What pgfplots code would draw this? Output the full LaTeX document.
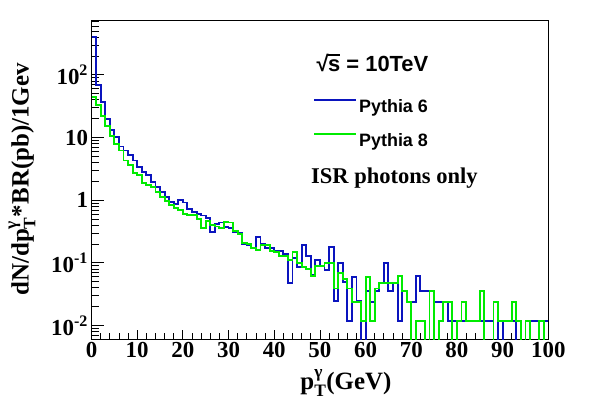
\documentclass[border=0pt]{standalone}
\usepackage{fontspec}
\setmainfont{Liberation Serif}
\newfontfamily\sansb{Liberation Sans}
\usepackage{pgfplots}
\usepackage{pgfplotstable}
\pgfplotsset{compat=1.18}
\definecolor{pblue}{RGB}{10,20,190}
\definecolor{pgreen}{RGB}{0,235,0}
\newcommand{\gT}{\rlap{\raisebox{0.12em}{\textsuperscript{γ}}}\raisebox{-0.12em}{\textsubscript{T}}}
\pgfplotstableread{
x b g
0 400 44
1 68 33
2 37 22
3 20 15.5
4 13 10.5
5 10.2 7.8
6 7.2 6.2
7 6.2 4.3
8 5.2 3.6
9 4.3 2.7
10 3.4 2.5
11 2.8 1.9
12 2.5 1.75
13 1.94 1.6
14 1.6 1.35
15 1.34 1.12
16 1.12 0.98
17 0.95 0.84
18 0.86 0.74
19 1.02 0.7
20 0.92 0.6
21 0.72 0.58
22 0.65 0.58
23 0.6 0.5
24 0.57 0.36
25 0.52 0.47
26 0.31 0.4
27 0.42 0.38
28 0.44 0.36
29 0.37 0.45
30 0.36 0.44
31 0.31 0.32
32 0.30 0.29
33 0.2 0.21
34 0.19 0.2
35 0.17 0.17
36 0.26 0.16
37 0.2 0.19
38 0.17 0.19
39 0.17 0.155
40 0.155 0.15
41 0.155 0.13
42 0.14 0.13
43 0.048 0.11
44 0.12 0.15
45 0.085 0.1
46 0.19 0.085
47 0.13 0.08
48 0.065 0.062
49 0.11 0.09
50 0.09 0.09
51 0.076 0.1
52 0.18 0.1
53 0.025 0.039
54 0.1 0.07
55 0.05 0.055
56 0.012 0.039
57 0.06 0.024
58 0.025 0.024
59 0.0001 0.012
60 0.036 0.06
61 0.024 0.012
62 0.036 0.039
63 0.048 0.048
64 0.1 0.048
65 0.036 0.048
66 0.048 0.048
67 0.012 0.062
68 0.036 0.036
69 0.024 0.024
70 0.024 0.0001
71 0.062 0.012
72 0.036 0.012
73 0.036 0.0001
74 0.036 0.036
75 0.024 0.0001
76 0.024 0.012
77 0.024 0.024
78 0.012 0.024
79 0.012 0.0001
80 0.012 0.012
81 0.012 0.024
82 0.012 0.012
83 0.012 0.012
84 0.012 0.012
85 0.012 0.036
86 0.012 0.0001
87 0.012 0.0001
88 0.024 0.024
89 0.0001 0.012
90 0.012 0.012
91 0.012 0.012
92 0.012 0.024
93 0.0001 0.012
94 0.0001 0.0001
95 0.012 0.012
96 0.012 0.0001
97 0.012 0.0001
98 0.012 0.012
99 0.012 0.0001
100 0.012 0.0001
}\histdata
\begin{document}
\begin{tikzpicture}[x=1bp,y=1bp]
\path[use as bounding box] (0,0) rectangle (609,409);
\begin{axis}[
  at={(91.5bp,70bp)}, anchor=south west,
  scale only axis, width=456.8bp, height=319bp,
  ymode=log, xmin=0, xmax=100, ymin=0.0061, ymax=750,
  axis line style={line width=0.9bp},
  tick pos=left, tick align=inside,
  major tick length=13bp, minor tick length=7bp,
  tick style={line width=0.8bp, black},
  xtick={0,10,...,100},
  xticklabels={0,10,20,30,40,50,60,70,80,90,100},
  minor x tick num=4,
  xtick style={/pgfplots/major tick length=9bp,/pgfplots/minor tick length=6bp},
  ytick={0.01,0.1,1,10,100},
  yticklabels={10\textsuperscript{-2},10\textsuperscript{-1},1,10,10\textsuperscript{2}},
  minor ytick={0.007,0.008,0.009,0.02,0.03,0.04,0.05,0.06,0.07,0.08,0.09,0.2,0.3,0.4,0.5,0.6,0.7,0.8,0.9,2,3,4,5,6,7,8,9,20,30,40,50,60,70,80,90,200,300,400,500,600,700},
  ticklabel style={font=\fontsize{23}{23}\selectfont\bfseries},
  xlabel={p\gT(GeV)},
  ylabel={dN/dp\gT*BR(pb)/1Gev},
  label style={font=\fontsize{25}{25}\selectfont\bfseries},
  xlabel style={at={(axis description cs:0.557,-0.138)}, anchor=center},
  ylabel style={at={(axis description cs:-0.152,0.5)}, anchor=center},
  legend entries={Pythia 6, Pythia 8},
  legend cell align=left,
  legend image code/.code={\draw[#1] (0bp,6.5bp) -- (42bp,6.5bp);},
  legend style={at={(axis description cs:0.485,0.759)}, anchor=north west,
    draw=none, fill=none, inner sep=0pt, row sep=16bp,
    font=\sansb\bfseries\fontsize{18}{18}\selectfont},
]
\addplot[const plot, pblue, line width=1.9bp] table[x=x,y=b] {\histdata};
\addplot[const plot, pgreen, line width=1.9bp] table[x=x,y=g] {\histdata};
\node[font=\sansb\bfseries\fontsize{22}{22}\selectfont] at (axis description cs:0.615,0.865)
  {√\kern-0.02em\rlap{\rule[0.74em]{0.56em}{0.07em}}s = 10TeV};
\node[font=\fontsize{22.6}{22.6}\selectfont\bfseries] at (axis description cs:0.663,0.505) {ISR photons only};
\end{axis}
\end{tikzpicture}
\end{document}
